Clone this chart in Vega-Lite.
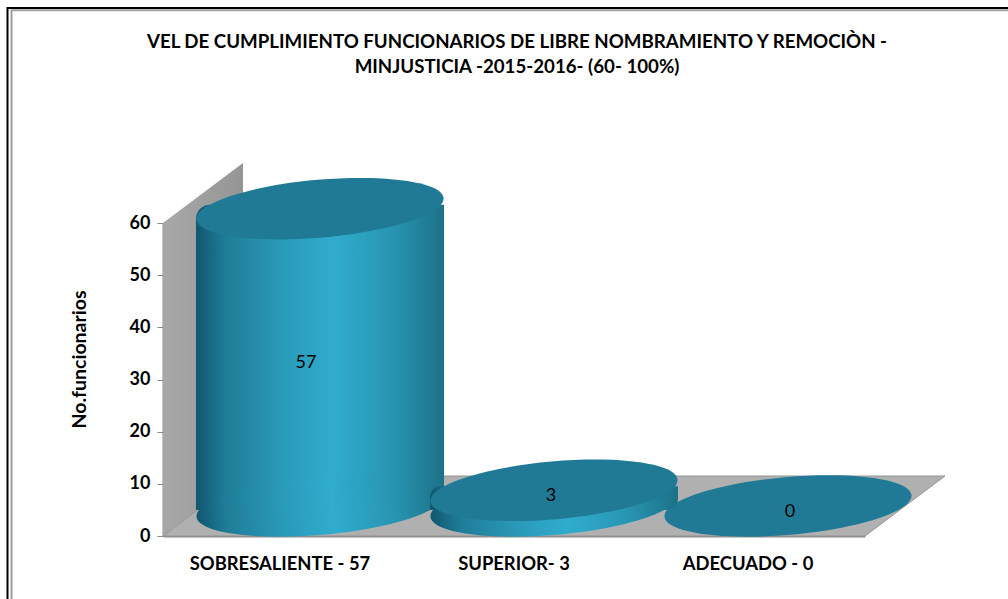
{
"$schema":"https://vega.github.io/schema/vega-lite/v6.json",
"width":702,"height":313,
"autosize":{"type":"none"},
"padding":{"left":163,"top":223,"right":143,"bottom":63},
"background":"white",
"title":{"text":["VEL DE CUMPLIMIENTO FUNCIONARIOS DE LIBRE  NOMBRAMIENTO Y REMOCIÒN -","MINJUSTICIA -2015-2016-  (60- 100%)"],"anchor":"middle","dx":3,"offset":-73,"font":"Lato","fontSize":18.7,"fontWeight":"bold","color":"black","lineHeight":25},
"config":{"view":{"stroke":null},"font":"Lato"},
"datasets":{
"categorias":[{"categoria":"SOBRESALIENTE - 57","valor":57,"medio":28.5},{"categoria":"SUPERIOR- 3","valor":3,"medio":3},{"categoria":"ADECUADO  - 0","valor":0,"medio":0}],
"fondo":[
{"parte":"pared","x":0,"y":0,"y2":60},{"parte":"pared","x":80,"y":11.5,"y2":71.5},
{"parte":"piso","x":0,"y":0,"y2":0},{"parte":"piso","x":80,"y":0,"y2":11.5},{"parte":"piso","x":702,"y":0,"y2":11.5},{"parte":"piso","x":782,"y":11.5,"y2":11.5}],
"marco":[
{"borde":"negro","orden":1,"x":-155.5,"y":-12.1},{"borde":"negro","orden":2,"x":-155.5,"y":101.2},{"borde":"negro","orden":3,"x":845,"y":101.2},
{"borde":"gris","orden":1,"x":-151.5,"y":-12.1},{"borde":"gris","orden":2,"x":-151.5,"y":100.8},{"borde":"gris","orden":3,"x":845,"y":100.8}]
},
"resolve":{"scale":{"x":"independent"},"axis":{"x":"independent"}},
"layer":[
{"encoding":{"x":{"field":"x","type":"quantitative","scale":{"domain":[0,702],"nice":false,"zero":false},"axis":null}},
 "layer":[
{"data":{"name":"fondo"},"transform":[{"filter":"datum.parte==='pared'"}],
 "mark":{"type":"area","clip":false,"color":{"gradient":"linear","x1":0,"x2":1,"y1":0,"y2":0,"stops":[{"offset":0,"color":"#a8a8a8"},{"offset":1,"color":"#959595"}]}},
 "encoding":{
 "y":{"field":"y","type":"quantitative","scale":{"domain":[0,60],"nice":false},"axis":{"values":[0,10,20,30,40,50,60],"title":"No.funcionarios","titleFont":"Lato","titleFontSize":19.5,"titleFontWeight":"bold","titleColor":"black","titleX":-74,"titleY":136,"labelFont":"Lato","labelFontSize":18,"labelFontWeight":"bold","labelColor":"black","labelPadding":7,"tickSize":6,"tickColor":"#8c8c8c","domainColor":"#8c8c8c","domainWidth":2,"grid":false}},
 "y2":{"field":"y2"}}},
{"data":{"name":"fondo"},"transform":[{"filter":"datum.parte==='piso'"}],
 "mark":{"type":"area","color":"#b0b0b0","stroke":"#949494","strokeWidth":1},
 "encoding":{"y":{"field":"y","type":"quantitative"},"y2":{"field":"y2"}}},
{"data":{"name":"marco"},"transform":[{"filter":"datum.borde==='negro'"}],
 "mark":{"type":"line","color":"black","strokeWidth":2,"clip":false},
 "encoding":{"y":{"field":"y","type":"quantitative"},"order":{"field":"orden"}}},
{"data":{"name":"marco"},"transform":[{"filter":"datum.borde==='gris'"}],
 "mark":{"type":"line","color":"#a0a0a0","strokeWidth":2,"clip":false},
 "encoding":{"y":{"field":"y","type":"quantitative"},"order":{"field":"orden"}}}
 ]},
{"data":{"name":"categorias"},
 "encoding":{"x":{"field":"categoria","type":"nominal","sort":null,"scale":{"domain":["SOBRESALIENTE - 57","SUPERIOR- 3","ADECUADO  - 0"],"paddingInner":0,"paddingOuter":0},"axis":{"orient":"bottom","title":null,"labelAngle":0,"labelFont":"Lato","labelFontSize":18.4,"labelFontWeight":"bold","labelColor":"black","labelPadding":18,"labelLimit":300,"ticks":false,"domainColor":"#8c8c8c","domainWidth":2,"grid":false}}},
 "layer":[
 {"transform":[{"filter":"datum.valor===57"}],"mark":{"type":"bar","size":248,"xOffset":40,"yOffset":-34,"y2Offset":-26,"cornerRadiusTopLeft":14,"cornerRadiusBottomRight":14,"color":{"gradient":"linear","x1":0,"x2":1,"y1":0,"y2":0,"stops":[{"offset":0,"color":"#11566f"},{"offset":0.12,"color":"#1f7d98"},{"offset":0.35,"color":"#2a9ab9"},{"offset":0.55,"color":"#30acce"},{"offset":0.8,"color":"#2894b1"},{"offset":1,"color":"#1c7188"}]}},
  "encoding":{"y":{"field":"valor","type":"quantitative"},"y2":{"datum":0}}},
 {"transform":[{"filter":"datum.valor===57"}],"mark":{"type":"point","filled":true,"opacity":1,"shape":"M-1,0 A1,0.233 0 1,1 1,0 A1,0.233 0 1,1 -1,0 Z","size":61504,"angle":-5,"xOffset":40,"yOffset":-30,"color":{"gradient":"linear","x1":0,"x2":1,"y1":0,"y2":0,"stops":[{"offset":0,"color":"#11566f"},{"offset":0.12,"color":"#1f7d98"},{"offset":0.35,"color":"#2a9ab9"},{"offset":0.55,"color":"#30acce"},{"offset":0.8,"color":"#2894b1"},{"offset":1,"color":"#1c7188"}]}},
  "encoding":{"y":{"datum":0,"type":"quantitative"}}},
 {"transform":[{"filter":"datum.valor===57"}],"mark":{"type":"point","filled":true,"opacity":1,"shape":"M-1,0 A1,0.233 0 1,1 1,0 A1,0.233 0 1,1 -1,0 Z","size":61504,"angle":-5,"xOffset":40,"yOffset":-30,"color":"#217a95"},
  "encoding":{"y":{"field":"valor","type":"quantitative"}}},
 {"transform":[{"filter":"datum.valor===0"}],"mark":{"type":"point","filled":true,"opacity":1,"shape":"M-1,0 A1,0.233 0 1,1 1,0 A1,0.233 0 1,1 -1,0 Z","size":61504,"angle":-5,"xOffset":40,"yOffset":-30,"color":"#217a95"},
  "encoding":{"y":{"field":"valor","type":"quantitative"}}},
 {"transform":[{"filter":"datum.valor===3"}],"mark":{"type":"bar","size":248,"xOffset":40,"yOffset":-34,"y2Offset":-26,"cornerRadiusTopLeft":11,"cornerRadiusBottomRight":11,"color":{"gradient":"linear","x1":0,"x2":1,"y1":0,"y2":0,"stops":[{"offset":0,"color":"#11566f"},{"offset":0.12,"color":"#1f7d98"},{"offset":0.35,"color":"#2a9ab9"},{"offset":0.55,"color":"#30acce"},{"offset":0.8,"color":"#2894b1"},{"offset":1,"color":"#1c7188"}]}},
  "encoding":{"y":{"field":"valor","type":"quantitative"},"y2":{"datum":0}}},
 {"transform":[{"filter":"datum.valor===3"}],"mark":{"type":"point","filled":true,"opacity":1,"shape":"M-1,0 A1,0.233 0 1,1 1,0 A1,0.233 0 1,1 -1,0 Z","size":61504,"angle":-5,"xOffset":40,"yOffset":-30,"color":{"gradient":"linear","x1":0,"x2":1,"y1":0,"y2":0,"stops":[{"offset":0,"color":"#11566f"},{"offset":0.12,"color":"#1f7d98"},{"offset":0.35,"color":"#2a9ab9"},{"offset":0.55,"color":"#30acce"},{"offset":0.8,"color":"#2894b1"},{"offset":1,"color":"#1c7188"}]}},
  "encoding":{"y":{"datum":0,"type":"quantitative"}}},
 {"transform":[{"filter":"datum.valor===3"}],"mark":{"type":"point","filled":true,"opacity":1,"shape":"M-1,0 A1,0.233 0 1,1 1,0 A1,0.233 0 1,1 -1,0 Z","size":61504,"angle":-5,"xOffset":40,"yOffset":-30,"color":"#217a95"},
  "encoding":{"y":{"field":"valor","type":"quantitative"}}},
 {"transform":[{"filter":"datum.valor===57"}],"mark":{"type":"text","font":"Lato","fontSize":18,"color":"black","xOffset":26,"yOffset":-24},
  "encoding":{"y":{"field":"medio","type":"quantitative"},"text":{"field":"valor"}}},
 {"transform":[{"filter":"datum.valor===3"}],"mark":{"type":"text","font":"Lato","fontSize":18,"color":"black","xOffset":37,"yOffset":-24},
  "encoding":{"y":{"field":"medio","type":"quantitative"},"text":{"field":"valor"}}},
 {"transform":[{"filter":"datum.valor===0"}],"mark":{"type":"text","font":"Lato","fontSize":18,"color":"black","xOffset":42,"yOffset":-24},
  "encoding":{"y":{"field":"medio","type":"quantitative"},"text":{"field":"valor"}}}
 ]}
]}
